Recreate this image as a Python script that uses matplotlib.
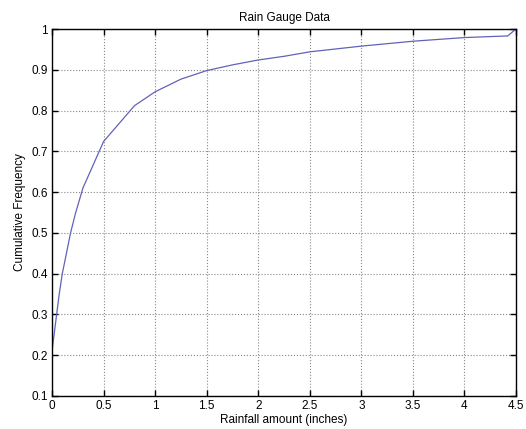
import matplotlib
matplotlib.use("Agg")
import matplotlib.pyplot as plt

rain = [0, 0.02, 0.05, 0.07, 0.1, 0.14, 0.18, 0.23, 0.3, 0.5, 0.8, 1.0, 1.25, 1.5, 1.75, 2.0, 2.25, 2.5, 3.0, 3.5, 4.0, 4.42, 4.5]
cumfreq = [0.21, 0.25, 0.31, 0.35, 0.40, 0.45, 0.50, 0.55, 0.61, 0.724, 0.812, 0.846, 0.877, 0.898, 0.912, 0.924, 0.933, 0.944, 0.958, 0.970, 0.979, 0.983, 1.0]
xticks = [0, 0.5, 1, 1.5, 2, 2.5, 3, 3.5, 4, 4.5]
xticklabels = ["0", "0.5", "1", "1.5", "2", "2.5", "3", "3.5", "4", "4.5"]
yticks = [0.1, 0.2, 0.3, 0.4, 0.5, 0.6, 0.7, 0.8, 0.9, 1.0]
yticklabels = ["0.1", "0.2", "0.3", "0.4", "0.5", "0.6", "0.7", "0.8", "0.9", "1"]

plt.rcParams['font.family'] = ['Liberation Sans', 'DejaVu Sans']
plt.rcParams['font.size'] = 8.5

fig = plt.figure(figsize=(5.26, 4.29), dpi=100)
ax = fig.add_axes([52/526, 33/429, 464/526, 367/429])
ax.plot(rain, cumfreq, color='#6262b8', lw=0.9)
ax.set_xlim(0, 4.5)
ax.set_ylim(0.1, 1.0)
ax.set_xticks(xticks)
ax.set_xticklabels(xticklabels)
ax.set_yticks(yticks)
ax.set_yticklabels(yticklabels)
ax.tick_params(direction='in', top=True, right=True, length=4, width=1, pad=3, colors='black')
ax.grid(True, linestyle=':', color='#888888', lw=0.8)
for s in ax.spines.values():
    s.set_linewidth(1.0)
ax.set_title("Rain Gauge Data", fontsize=8.5, pad=6)
ax.set_xlabel("Rainfall amount (inches)", labelpad=1)
ax.set_ylabel("Cumulative Frequency", labelpad=4)
fig.savefig("out.png", dpi=100)
